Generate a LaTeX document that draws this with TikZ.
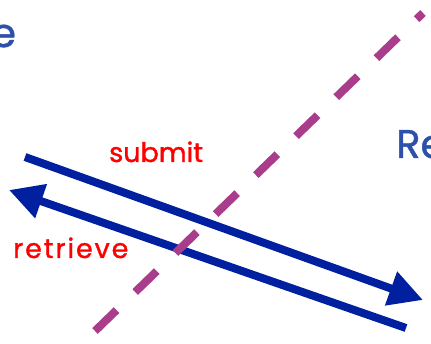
\documentclass[tikz,border=0pt]{standalone}
\usepackage{fontspec}
\setmainfont{Poppins}
\newfontfamily\labelfont[FakeBold=1.2]{Poppins}
\newfontfamily\widelabelfont[FakeBold=1.2,LetterSpace=7]{Poppins}
\usetikzlibrary{arrows.meta}
\definecolor{flowblue}{RGB}{0,32,160}
\definecolor{fencepink}{RGB}{170,60,140}
\definecolor{sideblue}{RGB}{45,80,170}
\definecolor{labelred}{RGB}{255,0,0}
\tikzset{
  flow/.style={draw=flowblue, line width=8pt,
    -{Triangle[length=34pt,width=34pt]}},
  fence/.style={draw=fencepink, line width=8pt, dash pattern=on 30pt off 26pt},
  side/.style={text=sideblue, font=\labelfont\fontsize{40}{40}\selectfont, inner sep=0pt, anchor=base west},
  flowlabel/.style={text=labelred, font=\labelfont\fontsize{27}{27}\selectfont, inner sep=0pt, anchor=base west}
}
\begin{document}
\begin{tikzpicture}[x=1pt,y=-1pt]
\useasboundingbox (0,0) rectangle (431,344);
\clip (0,0) rectangle (431,344);
% party names at both sides of the boundary
\node[side] (leftparty) at (-9,47) {e};
\node[side] (rightparty) at (396,158) {Re};
% the boundary between the two sides
\coordinate (f0) at (95,331);
\coordinate (f1) at (423,13);
% the two message flows
\coordinate (s0) at (25,157);
\coordinate (s1) at (423,300);
\coordinate (r0) at (406,328);
\coordinate (r1) at (9,190);
\draw[flow] (s0) -- (s1);
\draw[flow] (r0) -- (r1);
\draw[fence] (f0) -- (f1);
\node[flowlabel] (submit) at (109,162) {submit};
\node[flowlabel, font=\widelabelfont\fontsize{27}{27}\selectfont] (retrieve) at (13,258) {retrieve};
\end{tikzpicture}
\end{document}
